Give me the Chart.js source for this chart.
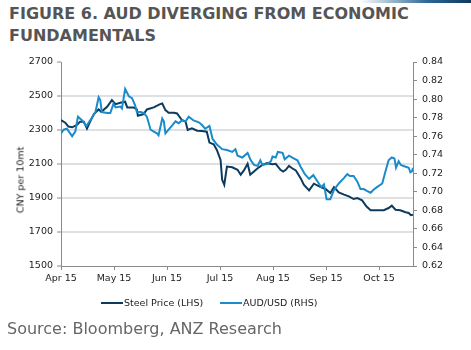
<!DOCTYPE html>
<html>
<head>
<meta charset="utf-8">
<script src="https://cdn.jsdelivr.net/npm/chart.js@4.4.1/dist/chart.umd.min.js"></script>
<style>
  body { margin: 0; background: #fff; font-family: 'DejaVu Sans', Verdana, sans-serif; }
  #wrap { position: relative; width: 471px; height: 350px; overflow: hidden; }
  #topbar { position: absolute; left: 360px; top: 0; width: 111px; height: 3px;
            background: linear-gradient(to right, rgba(255,255,255,0), #2c6a96 60%, #0c3a5c); }
  #title { position: absolute; left: 9px; top: 3px; font-weight: bold; font-size: 16px;
           line-height: 22px; color: #555; }
  #chartBox { position: absolute; left: 0; top: 0; width: 471px; height: 350px; }
  #ytitle { position: absolute; left: 20px; top: 180px; font-size: 9.5px; color: #222;
            transform: translate(-50%, -50%) rotate(-90deg); white-space: nowrap; }
  .leg { position: absolute; top: 297px; font-size: 9.5px; color: #222; white-space: nowrap; }
  .leg i { display: inline-block; width: 22px; height: 2px; vertical-align: middle;
           margin-right: 1px; position: relative; top: -1px; }
  #source { position: absolute; left: 7px; top: 319px; font-size: 16px; color: #666; }
</style>
</head>
<body>
<div id="wrap">
  <div id="topbar"></div>
  <div id="title">FIGURE 6. AUD DIVERGING FROM ECONOMIC<br>FUNDAMENTALS</div>
  <div id="chartBox"><canvas id="chart"></canvas></div>
  <div id="ytitle">CNY per 10mt</div>
  <div class="leg" style="left:101px"><i style="background:#0d3b5f"></i>Steel Price (LHS)</div>
  <div class="leg" style="left:220px"><i style="background:#1b8bc9"></i>AUD/USD (RHS)</div>
  <div id="source">Source: Bloomberg, ANZ Research</div>
</div>
<script>
// x positions are in months since the start of April 2015
const monthLabels = ['Apr 15', 'May 15', 'Jun 15', 'Jul 15', 'Aug 15', 'Sep 15', 'Oct 15'];

const steelMonths = [0.00, 0.08, 0.14, 0.21, 0.30, 0.36, 0.43, 0.49, 0.55, 0.62, 0.71, 0.76, 0.87, 0.96,
  1.03, 1.12, 1.21, 1.25, 1.37, 1.43, 1.45, 1.56, 1.62, 1.75, 1.87, 1.91, 1.97,
  2.03, 2.13, 2.19, 2.28, 2.35, 2.39, 2.47, 2.57, 2.66, 2.75, 2.80, 2.88, 2.94,
  3.01, 3.04, 3.08, 3.13, 3.23, 3.33, 3.39, 3.45, 3.52, 3.57, 3.64, 3.71, 3.80, 3.89, 3.99,
  4.05, 4.14, 4.19, 4.24, 4.30, 4.36, 4.43, 4.52, 4.58, 4.68, 4.77, 4.87, 4.99,
  5.08, 5.15, 5.24, 5.34, 5.43, 5.52, 5.59, 5.68, 5.76, 5.84, 5.96,
  6.09, 6.18, 6.24, 6.31, 6.40, 6.50, 6.56, 6.60, 6.64];
const steelPrice = [2359, 2343, 2320, 2316, 2330, 2349, 2349, 2308, 2349, 2394, 2421, 2407, 2437, 2476,
  2452, 2460, 2466, 2433, 2433, 2421, 2384, 2394, 2421, 2433, 2452, 2456, 2417,
  2401, 2401, 2397, 2359, 2349, 2300, 2310, 2296, 2294, 2290, 2226, 2216, 2183,
  2124, 2007, 1978, 2085, 2081, 2066, 2037, 2062, 2101, 2037, 2056, 2075, 2095, 2105, 2099,
  2101, 2066, 2056, 2066, 2089, 2075, 2062, 2017, 1978, 1945, 1984, 1968, 1953,
  1929, 1964, 1933, 1920, 1910, 1894, 1900, 1886, 1851, 1828, 1828,
  1828, 1841, 1855, 1831, 1828, 1816, 1812, 1799, 1802];

const audMonths = [0.00, 0.05, 0.11, 0.21, 0.27, 0.32, 0.40, 0.48, 0.55, 0.65, 0.71, 0.74, 0.77, 0.87, 0.93, 0.99,
  1.03, 1.12, 1.15, 1.21, 1.28, 1.34, 1.40, 1.43, 1.50, 1.56, 1.62, 1.69, 1.75, 1.81, 1.84, 1.91, 1.94, 1.97,
  2.03, 2.09, 2.16, 2.22, 2.28, 2.35, 2.41, 2.50, 2.60, 2.66, 2.72, 2.80, 2.86, 2.94,
  3.04, 3.13, 3.23, 3.29, 3.33, 3.42, 3.52, 3.58, 3.64, 3.71, 3.76, 3.80, 3.89, 3.96, 3.99,
  4.05, 4.09, 4.18, 4.22, 4.30, 4.39, 4.46, 4.52, 4.60, 4.68, 4.76, 4.83, 4.91, 4.96,
  5.01, 5.08, 5.15, 5.24, 5.34, 5.40, 5.45, 5.52, 5.59, 5.65, 5.71, 5.77, 5.84, 5.89, 5.96,
  6.06, 6.12, 6.18, 6.24, 6.29, 6.32, 6.37, 6.41, 6.50, 6.56, 6.59, 6.62, 6.64];
const audUsd = [0.763, 0.767, 0.768, 0.760, 0.765, 0.781, 0.777, 0.771, 0.777, 0.786, 0.802, 0.799, 0.786, 0.785, 0.785, 0.795,
  0.791, 0.792, 0.790, 0.811, 0.803, 0.801, 0.793, 0.786, 0.786, 0.785, 0.781, 0.767, 0.765, 0.763, 0.761, 0.779, 0.776, 0.763,
  0.767, 0.771, 0.776, 0.774, 0.777, 0.776, 0.781, 0.777, 0.775, 0.772, 0.768, 0.771, 0.757, 0.751,
  0.746, 0.745, 0.743, 0.746, 0.739, 0.737, 0.742, 0.734, 0.729, 0.728, 0.734, 0.729, 0.730, 0.733, 0.738,
  0.737, 0.743, 0.742, 0.735, 0.739, 0.736, 0.734, 0.727, 0.719, 0.714, 0.718, 0.712, 0.705, 0.708,
  0.692, 0.692, 0.702, 0.709, 0.715, 0.719, 0.717, 0.717, 0.711, 0.703, 0.703, 0.701, 0.699, 0.702, 0.705,
  0.709, 0.722, 0.734, 0.737, 0.736, 0.726, 0.733, 0.729, 0.727, 0.726, 0.721, 0.722, 0.726];

const toPoints = (xs, ys) => xs.map((x, i) => ({ x: x, y: ys[i] }));

const axisGrey = '#8a8a8a';
const tickFont = { family: "'DejaVu Sans', Verdana, sans-serif", size: 9.5 };

const ctx = document.getElementById('chart').getContext('2d');
new Chart(ctx, {
  type: 'line',
  data: {
    datasets: [
      {
        label: 'Steel Price (LHS)',
        data: toPoints(steelMonths, steelPrice),
        borderColor: '#0d3b5f',
        borderWidth: 2,
        pointRadius: 0,
        tension: 0,
        yAxisID: 'yL',
        order: 1
      },
      {
        label: 'AUD/USD (RHS)',
        data: toPoints(audMonths, audUsd),
        borderColor: '#1b8bc9',
        borderWidth: 2,
        pointRadius: 0,
        tension: 0,
        yAxisID: 'yR',
        order: 0
      }
    ]
  },
  options: {
    responsive: true,
    maintainAspectRatio: false,
    animation: false,
    layout: { padding: { top: 62, bottom: 62, left: 0, right: 0 } },
    plugins: { legend: { display: false }, tooltip: { enabled: false } },
    scales: {
      x: {
        type: 'linear',
        min: 0,
        max: 6.64,
        afterFit: (s) => { s.height = 22; },
        ticks: {
          stepSize: 1,
          includeBounds: false,
          autoSkip: false,
          maxRotation: 0,
          padding: 3,
          color: '#222',
          font: tickFont,
          callback: (v) => monthLabels[v]
        },
        grid: { drawOnChartArea: false, drawTicks: true, tickLength: 4, tickColor: axisGrey },
        border: { color: axisGrey, width: 1 }
      },
      yL: {
        position: 'left',
        min: 1500,
        max: 2700,
        afterFit: (s) => { s.width = 61; },
        ticks: { stepSize: 200, padding: 4, color: '#222', font: tickFont, callback: (v) => String(v) },
        grid: {
          color: (c) => (c.tick && (c.tick.value === 1500 || c.tick.value === 2700)) ? 'rgba(0,0,0,0)' : '#dde1e4',
          lineWidth: 2,
          drawTicks: true,
          tickLength: 4,
          tickColor: axisGrey,
          tickWidth: 1
        },
        border: { color: axisGrey, width: 1 }
      },
      yR: {
        position: 'right',
        min: 0.62,
        max: 0.84,
        afterFit: (s) => { s.width = 58; },
        ticks: { stepSize: 0.02, padding: 5, color: '#222', font: tickFont, callback: (v) => v.toFixed(2) },
        grid: { drawOnChartArea: false, drawTicks: true, tickLength: 4, tickColor: axisGrey },
        border: { color: axisGrey, width: 1 }
      }
    }
  }
});
</script>
</body>
</html>
